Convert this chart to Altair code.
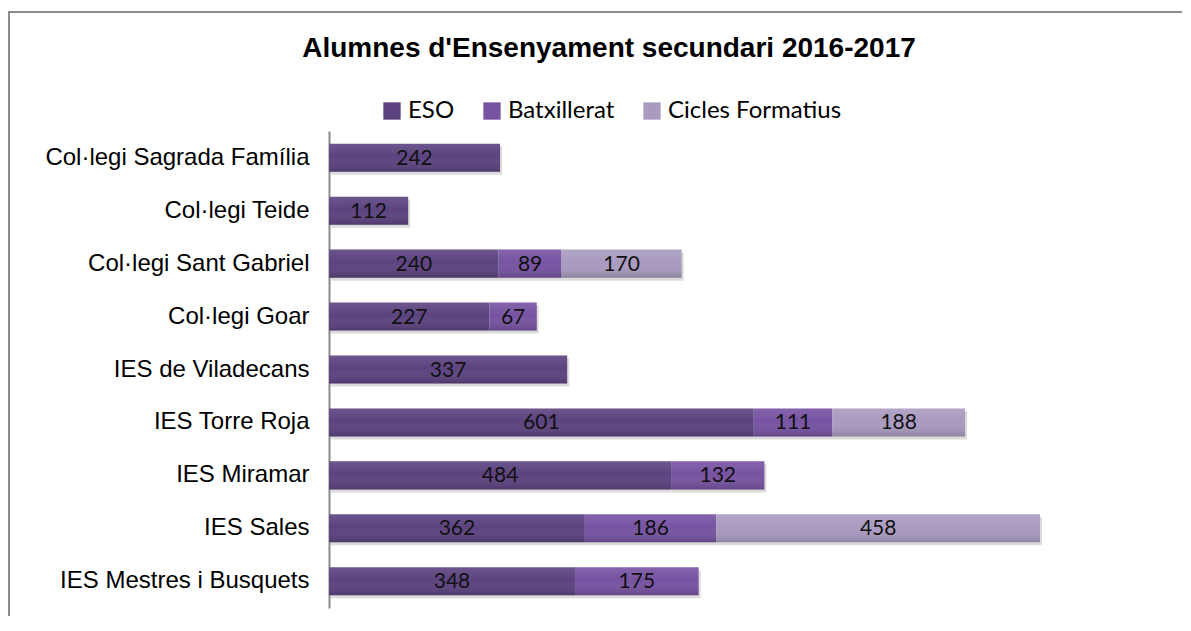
import altair as alt
import pandas as pd

title_text = "Alumnes d'Ensenyament secundari 2016-2017"
schools = ["Col·legi Sagrada Família", "Col·legi Teide", "Col·legi Sant Gabriel",
           "Col·legi Goar", "IES de Viladecans", "IES Torre Roja", "IES Miramar",
           "IES Sales", "IES Mestres i Busquets"]
eso = [242, 112, 240, 227, 337, 601, 484, 362, 348]
batx = [0, 0, 89, 67, 0, 111, 132, 186, 175]
cicles = [0, 0, 170, 0, 0, 188, 0, 458, 0]
series = ["ESO", "Batxillerat", "Cicles Formatius"]
colors = ["#5c4380", "#7753a2", "#a99bc0"]

rows = []
for i, s in enumerate(schools):
    for k, (name, vals) in enumerate(zip(series, [eso, batx, cicles])):
        if vals[i] > 0:
            rows.append({"school": s, "serie": name, "order": k, "value": vals[i]})
df = pd.DataFrame(rows)

W, H = 711, 477
xscale = alt.Scale(domain=[0, 1006], nice=False)
yenc = alt.Y("school:N", sort=schools, title=None,
             scale=alt.Scale(paddingInner=0.47, paddingOuter=0.24),
             axis=alt.Axis(labelFont="Liberation Sans", labelFontSize=24, labelColor="#000000",
                           labelLimit=0, ticks=False, labelPadding=20,
                           domainColor="#8a8a8a", domainWidth=2))

base = alt.Chart(df).transform_stack(
    stack="value", groupby=["school"], as_=["x0", "x1"], sort=[alt.SortField("order")]
).transform_calculate(mid="(datum.x0 + datum.x1) / 2")

shadow = base.transform_aggregate(total="max(x1)", groupby=["school"]).mark_bar(
    color="#bdbdbd", opacity=0.55, xOffset=2, yOffset=3
).encode(x=alt.X("total:Q", scale=xscale, axis=None), y=yenc)

bars = base.mark_bar().encode(
    x=alt.X("x0:Q", scale=xscale, axis=None),
    x2="x1:Q",
    y=yenc,
    color=alt.Color("serie:N", sort=series, scale=alt.Scale(domain=series, range=colors),
                    legend=alt.Legend(title=None, orient="none", direction="horizontal",
                                      legendX=51, legendY=-32, symbolType="square",
                                      symbolSize=300, symbolStrokeWidth=0,
                                      labelFont="Lato", labelFontSize=24, labelColor="#000000",
                                      labelLimit=0, columnPadding=25, labelOffset=4)),
)

grad = alt.Gradient(gradient="linear", x1=0, y1=0, x2=0, y2=1,
                    stops=[alt.GradientStop(color="rgba(255,255,255,0.10)", offset=0),
                           alt.GradientStop(color="rgba(255,255,255,0.0)", offset=0.45),
                           alt.GradientStop(color="rgba(0,0,0,0.16)", offset=1)])
shade = base.mark_bar(fill=grad).encode(
    x=alt.X("x0:Q", scale=xscale, axis=None), x2="x1:Q", y=yenc)

labels = base.mark_text(font="Lato", fontSize=21, color="#111111", dy=1).encode(
    x=alt.X("mid:Q", scale=xscale, axis=None), y=yenc, text="value:Q")

one = pd.DataFrame({"t": [title_text]})
frame = alt.Chart(one).mark_rect(
    fill="transparent", stroke="#8c8c8c", strokeWidth=2
).encode(x=alt.value(-320), x2=alt.value(900), y=alt.value(-119), y2=alt.value(520))

title = alt.Chart(one).mark_text(
    font="Liberation Sans", fontSize=28, fontWeight="bold", color="#000000",
    align="center", baseline="middle"
).encode(x=alt.value(280), y=alt.value(-82), text="t:N")

chart = alt.layer(frame, title, shadow, bars, shade, labels).properties(
    width=W, height=H,
    autosize=alt.AutoSizeParams(type="none"),
    padding={"left": 321, "top": 123, "right": 142, "bottom": 8},
    background="white",
).configure_view(strokeWidth=0)

chart.save("out.html", embed_options={"renderer": "svg", "actions": False})
